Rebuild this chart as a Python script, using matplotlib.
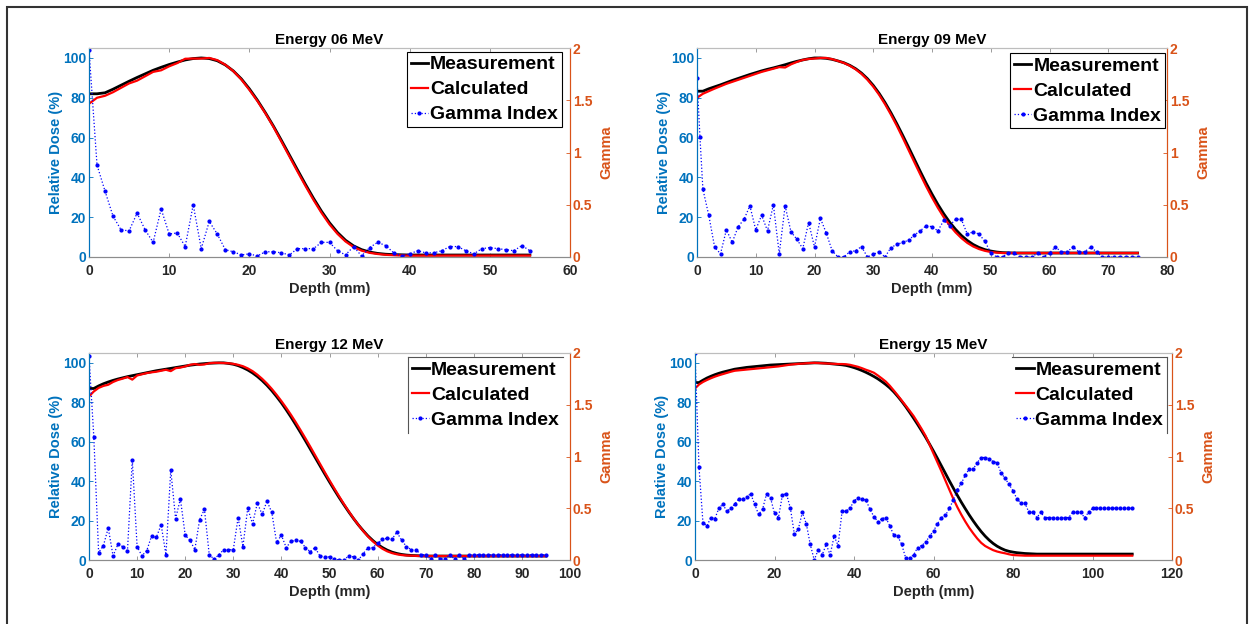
import numpy as np
import matplotlib
matplotlib.use('Agg')
import matplotlib.pyplot as plt
from matplotlib.patches import Rectangle
from matplotlib.lines import Line2D

plt.rcParams['font.family'] = ['Liberation Sans', 'DejaVu Sans']
plt.rcParams['font.weight'] = 'bold'

# ---------------- data ----------------
titles = ['Energy 06 MeV', 'Energy 09 MeV', 'Energy 12 MeV', 'Energy 15 MeV']
series_labels = ['Measurement', 'Calculated', 'Gamma Index']

# 6 MeV
depth6 = np.arange(0, 56)
meas6 = [82.0, 82.0, 82.5, 84.3, 86.3, 88.3, 90.2, 92.0, 93.8, 95.3, 96.7, 97.9, 99.0, 99.7,
         100.0, 99.7, 98.6, 96.5, 93.5, 89.5, 84.5, 78.8, 72.5, 65.8, 58.6, 51.2, 43.8, 36.5,
         29.5, 23.0, 17.2, 12.3, 8.4, 5.6, 3.7, 2.5, 1.8, 1.4, 1.2, 1.1,
         1.0, 1.0, 1.0, 1.0, 1.0, 1.0, 1.0, 1.0, 1.0, 1.0, 1.0, 1.0, 1.0, 1.0, 1.0, 1.0]
calc6 = [77.0, 80.0, 81.0, 82.8, 85.0, 87.2, 88.6, 90.8, 93.0, 93.8, 95.8, 97.4, 99.6, 99.7,
         99.7, 100.0, 98.9, 96.6, 93.4, 89.2, 84.0, 78.4, 72.2, 65.4, 58.0, 50.5, 43.0, 35.7,
         28.7, 22.2, 16.4, 11.6, 7.8, 5.0, 3.2, 2.1, 1.5, 1.1, 0.9, 0.8,
         0.7, 0.7, 0.7, 0.7, 0.7, 0.7, 0.7, 0.7, 0.7, 0.7, 0.7, 0.7, 0.7, 0.7, 0.7, 0.7]
gdepth6 = np.arange(0, 56)
gamma6 = [1.98, 0.88, 0.63, 0.39, 0.26, 0.25, 0.42, 0.26, 0.14, 0.46, 0.22, 0.23, 0.10, 0.50,
          0.08, 0.34, 0.22, 0.07, 0.05, 0.02, 0.03, 0.01, 0.05, 0.05, 0.04, 0.02, 0.08, 0.08,
          0.08, 0.14, 0.14, 0.06, 0.02, 0.10, 0.01, 0.09, 0.14, 0.11, 0.04, 0.01, 0.03, 0.06,
          0.04, 0.04, 0.06, 0.10, 0.10, 0.06, 0.03, 0.08, 0.09, 0.08, 0.07, 0.06, 0.11, 0.06]

# 9 MeV
depth9 = np.arange(0, 76)
meas9 = [83.3, 83.3, 84.5, 85.5, 86.5, 87.6, 88.7, 89.7, 90.7, 91.7, 92.6, 93.5, 94.3, 95.0,
         95.8, 96.6, 97.5, 98.3, 99.0, 99.6, 100.0, 100.0, 99.8, 99.3, 98.5, 97.6, 96.3, 94.6,
         92.4, 89.6, 86.2, 82.2, 77.6, 72.5, 67.0, 61.2, 55.2, 49.1, 43.0, 37.1, 31.6, 26.4,
         21.7, 17.5, 13.9, 10.8, 8.3, 6.3, 4.8, 3.7, 3.0, 2.5, 2.2, 2.1,
         2.0, 2.0, 2.0, 2.0, 2.0, 2.0, 2.0, 2.0, 2.0, 2.0, 2.0, 2.0, 2.0, 2.0, 2.0, 2.0, 2.0,
         2.0, 2.0, 2.0, 2.0, 2.0]
calc9 = [80.0, 82.0, 83.3, 84.6, 85.8, 87.0, 88.0, 89.0, 90.0, 91.0, 92.0, 93.0, 93.8, 94.6,
         95.4, 95.2, 96.8, 98.0, 99.0, 99.5, 99.7, 100.0, 100.0, 99.4, 98.5, 97.5, 96.1, 94.3,
         92.0, 89.1, 85.6, 81.5, 76.8, 71.6, 66.0, 60.0, 53.8, 47.6, 41.5, 35.5, 29.9, 24.7,
         20.0, 15.9, 12.4, 9.5, 7.1, 5.3, 4.0, 3.1, 2.5, 2.2,
         2.0, 2.0, 2.0, 2.0, 2.0, 2.0, 2.0, 2.0, 2.0, 2.0, 2.0, 2.0, 2.0, 2.0, 2.0, 2.0, 2.0,
         2.0, 2.0, 2.0, 2.0, 2.0, 2.0, 2.0]
gdepth9 = np.concatenate([[0, 0.5], np.arange(1, 76)])
gamma9 = [1.71, 1.15, 0.65, 0.40, 0.095, 0.03, 0.26, 0.14, 0.29, 0.36, 0.49, 0.26, 0.40, 0.25,
          0.50, 0.03, 0.49, 0.24, 0.17, 0.08, 0.33, 0.095, 0.37, 0.23, 0.06, 0.0, 0.0, 0.05,
          0.06, 0.10, 0.0, 0.025, 0.05, 0.0, 0.09, 0.12, 0.14, 0.16, 0.21, 0.25, 0.30, 0.29,
          0.25, 0.35, 0.30, 0.36, 0.36, 0.22, 0.24, 0.22, 0.15, 0.04, 0.0, 0.0, 0.04, 0.04,
          0.0, 0.0, 0.0, 0.04, 0.0, 0.04, 0.095, 0.05, 0.05, 0.095, 0.05, 0.05, 0.095, 0.05,
          0.0, 0.0, 0.0, 0.0, 0.0, 0.0, 0.0]

# 12 MeV
depth12 = np.arange(0, 96)
meas12 = [87.0, 87.0, 88.3, 89.4, 90.3, 91.1, 91.8, 92.4, 93.0, 93.5, 94.0, 94.5, 95.0, 95.5,
          96.0, 96.4, 96.8, 97.2, 97.6, 98.0, 98.4, 98.8, 99.1, 99.4, 99.6, 99.8, 99.9, 100.0,
          100.0, 99.7, 99.3, 98.6, 97.6, 96.4, 94.9, 93.1, 91.0, 88.6, 85.9, 82.9, 79.7, 76.2,
          72.5, 68.6, 64.6, 60.5, 56.3, 52.1, 47.9, 43.7, 39.6, 35.6, 31.7, 28.0, 24.4, 21.0,
          17.8, 14.9, 12.2, 9.9, 7.9, 6.3, 5.0, 4.0, 3.3, 2.8, 2.5, 2.3, 2.2, 2.1,
          2.0, 2.0, 2.0, 2.0, 2.0, 2.0, 2.0, 2.0, 2.0, 2.0, 2.0, 2.0, 2.0, 2.0, 2.0, 2.0, 2.0,
          2.0, 2.0, 2.0, 2.0, 2.0, 2.0, 2.0, 2.0, 2.0]
calc12 = [83.0, 85.5, 87.3, 88.3, 88.9, 90.3, 91.3, 92.0, 92.8, 91.5, 93.6, 94.2, 94.8, 95.2,
          95.5, 96.0, 96.5, 95.8, 97.3, 97.6, 98.2, 99.0, 99.4, 99.0, 99.2, 99.8, 100.0, 100.0,
          99.9, 99.8, 99.5, 99.0, 98.3, 97.2, 95.8, 94.0, 91.9, 89.5, 86.8, 83.8, 80.6, 77.2,
          73.6, 69.8, 65.8, 61.7, 57.5, 53.2, 48.9, 44.6, 40.4, 36.3, 32.3, 28.4, 24.7, 21.1,
          17.8, 14.7, 11.9, 9.5, 7.4, 5.7, 4.4, 3.5, 2.9, 2.5, 2.3, 2.2, 2.1,
          2.0, 2.0, 2.0, 2.0, 2.0, 2.0, 2.0, 2.0, 2.0, 2.0, 2.0, 2.0, 2.0, 2.0, 2.0, 2.0, 2.0,
          2.0, 2.0, 2.0, 2.0, 2.0, 2.0, 2.0, 2.0, 2.0, 2.0]
gdepth12 = np.arange(0, 96)
gamma12 = [1.97, 1.19, 0.07, 0.14, 0.31, 0.04, 0.15, 0.13, 0.09, 0.97, 0.13, 0.04, 0.09, 0.23,
           0.22, 0.34, 0.05, 0.87, 0.40, 0.59, 0.24, 0.19, 0.10, 0.39, 0.49, 0.05, 0.01, 0.05,
           0.10, 0.10, 0.10, 0.41, 0.13, 0.50, 0.35, 0.55, 0.44, 0.57, 0.46, 0.17, 0.24, 0.12,
           0.18, 0.19, 0.18, 0.12, 0.08, 0.12, 0.04, 0.03, 0.03, 0.01, 0.0, 0.0, 0.04, 0.03,
           0.0, 0.06, 0.12, 0.12, 0.16, 0.20, 0.21, 0.20, 0.27, 0.19, 0.13, 0.10, 0.10, 0.05,
           0.05, 0.01, 0.05, 0.01, 0.01, 0.05, 0.01, 0.05, 0.01, 0.05,
           0.05, 0.05, 0.05, 0.05, 0.05, 0.05, 0.05, 0.05, 0.05, 0.05, 0.05, 0.05, 0.05, 0.05,
           0.05, 0.05]

# 15 MeV
depth15 = np.arange(0, 111)
meas15 = [90.0, 90.0, 91.2, 92.3, 93.2, 94.0, 94.7, 95.3, 95.8, 96.3, 96.8, 97.1, 97.4, 97.7,
          97.9, 98.1, 98.3, 98.5, 98.7, 98.9, 99.0, 99.1, 99.2, 99.3, 99.4, 99.5, 99.6, 99.7,
          99.8, 99.9, 100.0, 100.0, 99.9, 99.8, 99.6, 99.4,
          99.2, 99.0, 98.7, 98.2, 97.6, 96.9, 96.1, 95.2, 94.2, 93.1, 91.9, 90.5, 89.0, 87.3,
          85.3, 83.0, 80.5, 77.8, 74.9, 71.9, 68.8, 65.6, 62.3, 58.8, 55.2, 51.5, 47.7, 43.9,
          40.1, 36.4, 32.8, 29.3, 26.0, 22.8, 19.8, 17.0, 14.4, 12.1, 10.1, 8.4, 7.0, 5.9,
          5.0, 4.4, 4.0, 3.7, 3.5, 3.3, 3.2, 3.1,
          3.0, 3.0, 3.0, 3.0, 3.0, 3.0, 3.0, 3.0, 3.0, 3.0, 3.0, 3.0, 3.0, 3.0, 3.0, 3.0, 3.0,
          3.0, 3.0, 3.0, 3.0, 3.0, 3.0, 3.0, 3.0]
calc15 = [87.0, 89.0, 90.3, 91.3, 92.2, 93.0, 93.7, 94.3, 94.9, 95.5, 96.0, 96.2, 96.4, 96.6,
          96.8, 97.0, 97.2, 97.4, 97.6, 97.8, 98.0, 98.2, 98.5, 98.8, 99.1, 99.3, 99.5, 99.6,
          99.8, 99.9, 100.0, 99.9, 99.8, 99.7, 99.6, 99.5, 99.4, 99.4, 99.3, 99.0, 98.5, 98.0,
          97.3, 96.5, 95.8, 95.0, 93.6, 92.1, 90.5, 88.4, 86.0, 83.5, 80.9, 78.3, 75.7, 73.0,
          69.8, 66.5, 63.0, 58.6, 54.0, 49.5, 45.0, 40.3, 35.6, 31.0, 26.8, 23.0, 19.5, 16.3,
          13.5, 10.9, 8.7, 7.1, 6.0, 5.0, 4.3, 3.8, 3.4, 2.9, 2.5, 2.4, 2.3,
          2.2, 2.2, 2.2, 2.2, 2.2, 2.2, 2.2, 2.2, 2.2, 2.2, 2.2, 2.2, 2.2, 2.2, 2.2, 2.2, 2.2,
          2.2, 2.2, 2.2, 2.2, 2.2, 2.2, 2.2, 2.2, 2.2, 2.2, 2.2]
gdepth15 = np.arange(0, 111)
gamma15 = [2.0, 0.90, 0.36, 0.33, 0.41, 0.40, 0.50, 0.54, 0.47, 0.50,
           0.54, 0.59, 0.59, 0.61, 0.64, 0.54, 0.44, 0.49, 0.64, 0.60,
           0.45, 0.41, 0.63, 0.64, 0.50, 0.25, 0.30, 0.46, 0.35, 0.15,
           0.0, 0.10, 0.05, 0.15, 0.05, 0.23, 0.14, 0.47, 0.47, 0.50,
           0.57, 0.60, 0.59, 0.58, 0.49, 0.42, 0.37, 0.40, 0.41, 0.33,
           0.24, 0.23, 0.15, 0.02, 0.02, 0.05, 0.12, 0.14, 0.17, 0.23,
           0.28, 0.35, 0.41, 0.43, 0.50, 0.58, 0.68, 0.74, 0.82, 0.88,
           0.88, 0.94, 0.99, 0.99, 0.98, 0.95, 0.94, 0.84, 0.79, 0.73,
           0.67, 0.59, 0.55, 0.55, 0.46, 0.46, 0.41, 0.46, 0.41, 0.41,
           0.41, 0.41, 0.41, 0.41, 0.41, 0.46, 0.46, 0.46, 0.41, 0.46,
           0.50, 0.50, 0.50, 0.50, 0.50, 0.50, 0.50, 0.50, 0.50, 0.50, 0.50]

xmax_list = [60, 80, 100, 120]
xstep_list = [10, 10, 10, 20]
dose_ticks = [0, 20, 40, 60, 80, 100]
gamma_ticks = [0, 0.5, 1, 1.5, 2]
gamma_ticklabels = ['0', '0.5', '1', '1.5', '2']

# ---------------- style / layout ----------------
W, H = 1250, 624
BLUE_AX = '#0072BD'
ORANGE = '#D95319'
DARK = '#262626'
SPINE_GRAY = '#8c8c8c'

# axes boxes in pixels: (left, right, top, bottom)
boxes = [(89, 570, 48, 257), (697, 1167, 48, 257), (89, 570, 353, 560), (695, 1172, 353, 560)]
legend_anchor = [(0.983, 0.981), (0.996, 0.976), (0.985, 0.98), (0.99, 0.98)]
# which legend border sides are visible (the lower panels show partial frames)
legend_sides = [('top', 'bottom', 'left', 'right'), ('top', 'bottom', 'left', 'right'),
                ('top', 'left'), ('top', 'right')]

fig = plt.figure(figsize=(W / 100, H / 100), dpi=100)

data = [(depth6, meas6, calc6, gdepth6, gamma6),
        (depth9, meas9, calc9, gdepth9, gamma9),
        (depth12, meas12, calc12, gdepth12, gamma12),
        (depth15, meas15, calc15, gdepth15, gamma15)]

legends = []
for i, (d, m, c, gd, g) in enumerate(data):
    l, r, t, b = boxes[i]
    ax = fig.add_axes([l / W, 1 - b / H, (r - l) / W, (b - t) / H])
    h1, = ax.plot(d, m, color='black', lw=2.0, label=series_labels[0])
    h2, = ax.plot(d, c, color='red', lw=1.6, label=series_labels[1])
    ax.set_xlim(0, xmax_list[i])
    ax.set_ylim(0, 105)
    ax.set_xticks(np.arange(0, xmax_list[i] + 1, xstep_list[i]))
    ax.set_yticks(dose_ticks)
    ax.tick_params(axis='x', direction='in', length=3, width=0.6, colors=DARK,
                   labelsize=10, pad=5, top=True, color=SPINE_GRAY)
    ax.tick_params(axis='y', direction='in', length=3, width=0.6, colors=BLUE_AX,
                   labelsize=10, pad=2)
    for lab in ax.get_xticklabels() + ax.get_yticklabels():
        lab.set_fontweight('bold')
    ax.set_xlabel('Depth (mm)', fontsize=10.5, fontweight='bold', color=DARK, labelpad=3)
    ax.set_ylabel('Relative Dose (%)', fontsize=10.5, fontweight='bold', color=BLUE_AX, labelpad=0)
    ax.set_title(titles[i], fontsize=11, fontweight='bold', pad=3)

    ax2 = ax.twinx()
    h3, = ax2.plot(gd, g, color='blue', ls=':', lw=0.9, marker='.', ms=4, label=series_labels[2])
    ax2.set_ylim(0, 2)
    ax2.set_yticks(gamma_ticks)
    ax2.set_yticklabels(gamma_ticklabels)
    ax2.tick_params(axis='y', direction='in', length=3, width=0.6, colors=ORANGE,
                    labelsize=10, pad=2)
    for lab in ax2.get_yticklabels():
        lab.set_fontweight('bold')
    ax2.set_ylabel('Gamma', fontsize=10.5, fontweight='bold', color=ORANGE, labelpad=5)

    for a in (ax, ax2):
        a.spines['left'].set_color(BLUE_AX)
        a.spines['right'].set_color(ORANGE)
        a.spines['top'].set_color('#bdbdbd')
        a.spines['bottom'].set_color(SPINE_GRAY)
        for s in a.spines.values():
            s.set_linewidth(0.8)

    full = len(legend_sides[i]) == 4
    leg = ax2.legend([h1, h2, h3], series_labels, loc='upper right',
                     bbox_to_anchor=legend_anchor[i], borderaxespad=0,
                     prop={'size': 14, 'weight': 'bold'}, handlelength=0.9,
                     handletextpad=0.1, borderpad=0.2, labelspacing=0.38,
                     fancybox=False, framealpha=1,
                     edgecolor='black' if full else 'white')
    leg.get_frame().set_linewidth(0.8)
    legends.append((leg, legend_sides[i], full))

# partial legend borders
fig.canvas.draw()
inv = fig.transFigure.inverted()
for leg, sides, full in legends:
    if full:
        continue
    bb = leg.get_frame().get_window_extent()
    (x0, y0), (x1, y1) = inv.transform([[bb.x0, bb.y0], [bb.x1, bb.y1]])
    segs = {'top': ([x0, x1], [y1, y1]), 'bottom': ([x0, x1], [y0, y0]),
            'left': ([x0, x0], [y0, y1]), 'right': ([x1, x1], [y0, y1])}
    for s in sides:
        xs, ys = segs[s]
        fig.add_artist(Line2D(xs, ys, transform=fig.transFigure, color='#555555', lw=0.8))

# outer frame
fig.patches.append(Rectangle((7 / W, -0.05), (1247 - 7) / W, 1.05 - 7 / H,
                             transform=fig.transFigure, fill=False,
                             edgecolor='#333333', lw=1.5))

fig.savefig('out.png', dpi=100)
